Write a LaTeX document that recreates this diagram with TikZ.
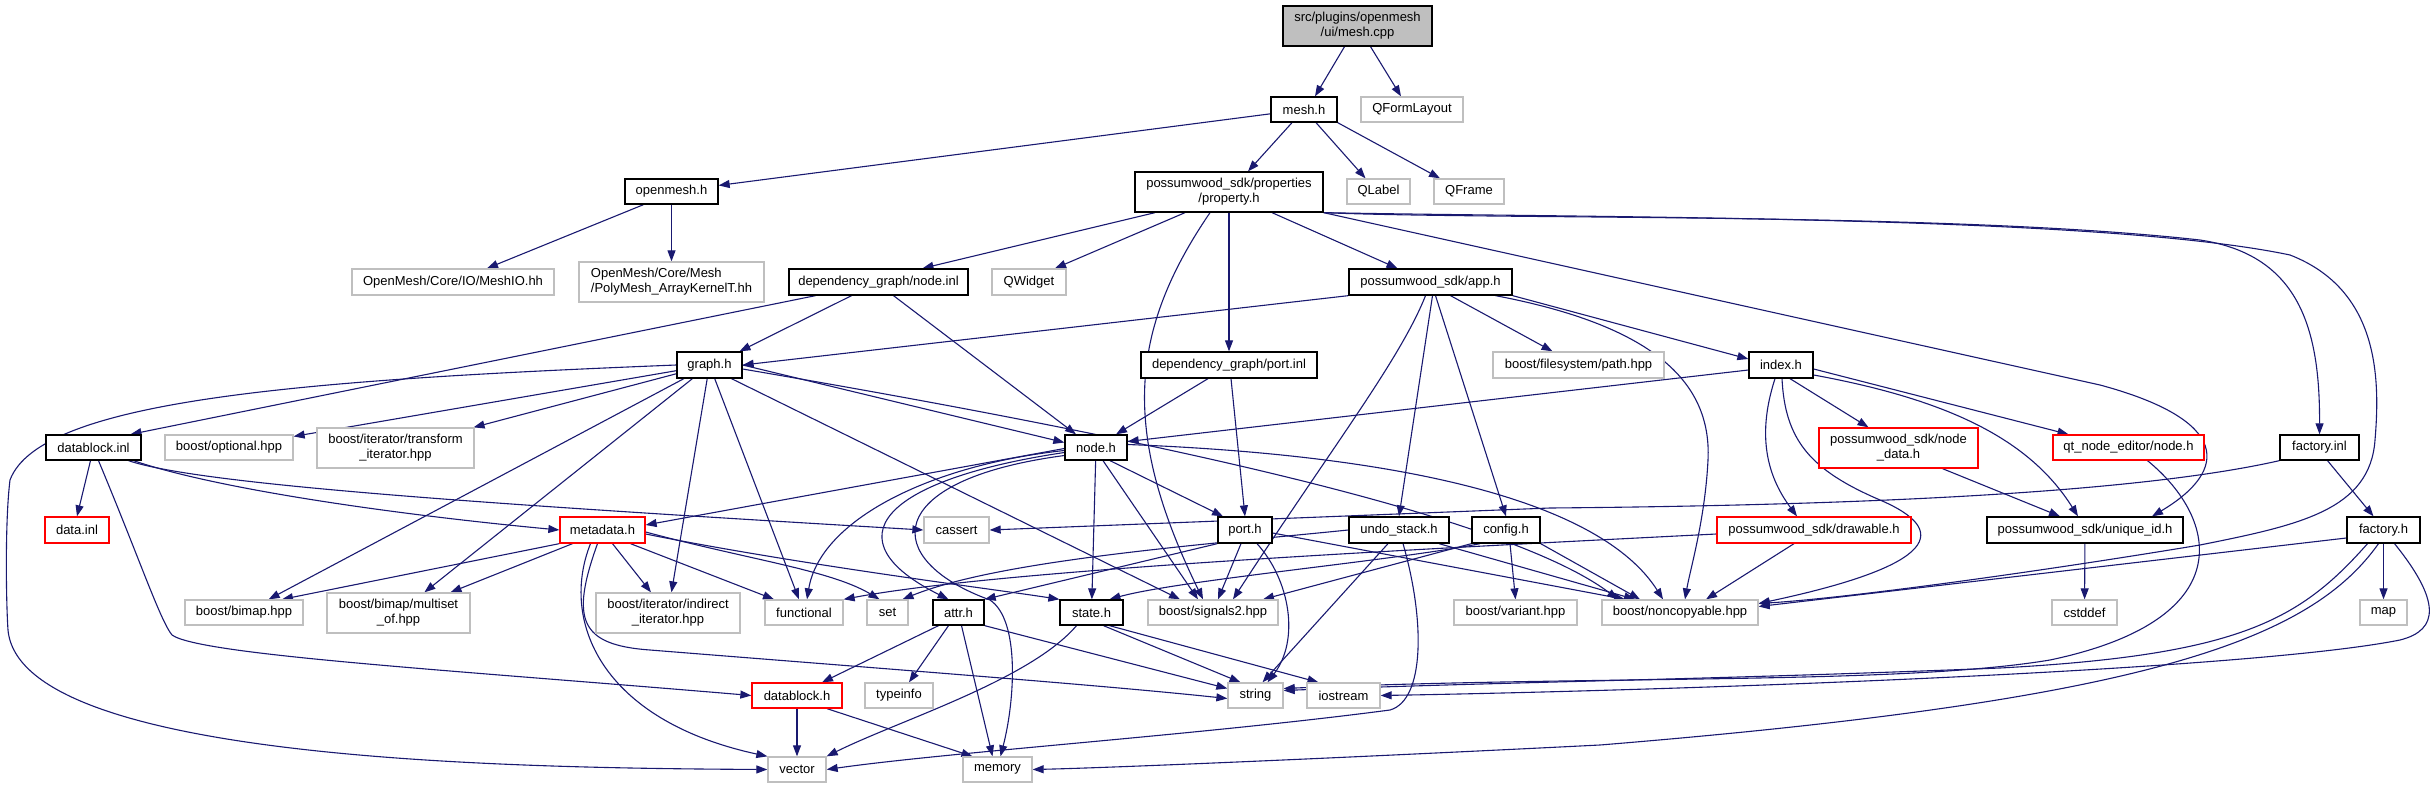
\documentclass[tikz,border=0pt]{standalone}
\usepackage{fontspec}
\setmainfont{Liberation Sans}
\usetikzlibrary{arrows.meta}
\definecolor{edgeblue}{HTML}{191970}
\definecolor{lightgr}{HTML}{BFBFBF}
\definecolor{redbd}{HTML}{FF0000}
\pgfdeclarelayer{bg}
\pgfsetlayers{bg,main}
\tikzset{
  nbox/.style={draw, line width=1.3pt, inner sep=0pt, align=center, fill=white, font=\fontsize{13}{15}\selectfont},
  blk/.style={nbox, draw=black},
  gry/.style={nbox, draw=lightgr},
  rd/.style={nbox, draw=redbd},
  rootbox/.style={nbox, draw=black, fill=lightgr},
  wh/.style 2 args={minimum width=#1pt, minimum height=#2pt},
  dep/.style={draw=edgeblue, line width=1.1pt, -{Triangle[length=11pt,width=8pt]}}
}
\begin{document}
\begin{tikzpicture}[x=1pt,y=-1pt]
\useasboundingbox (0,0) rectangle (2433,789);
% nodes
\node[rootbox, wh={149}{40}] (root) at (1357.5,26) {src/plugins/openmesh\\/ui/mesh.cpp};
\node[blk, wh={66}{25}] (mesh) at (1304,109.5) {mesh.h};
\node[gry, wh={102}{25}] (qform) at (1412,109.5) {QFormLayout};
\node[blk, wh={93}{25}] (openmesh) at (671.5,191.5) {openmesh.h};
\node[blk, wh={188}{40}] (property) at (1229,192) {possumwood\_sdk/properties\\/property.h};
\node[gry, wh={63}{25}] (qlabel) at (1378.5,191.5) {QLabel};
\node[gry, wh={70}{25}] (qframe) at (1469,191.5) {QFrame};
\node[gry, wh={202}{26}] (meshio) at (453,282) {OpenMesh/Core/IO/MeshIO.hh};
\node[gry, wh={185}{40}, align=left] (polymesh) at (671.5,282) {OpenMesh/Core/Mesh\\/PolyMesh\_ArrayKernelT.hh};
\node[blk, wh={179}{26}] (nodeinl) at (878.5,282) {dependency\_graph/node.inl};
\node[gry, wh={74}{26}] (qwidget) at (1029,282) {QWidget};
\node[blk, wh={163}{26}] (app) at (1430.5,282) {possumwood\_sdk/app.h};
\node[blk, wh={65}{26}] (graph) at (709.5,365) {graph.h};
\node[blk, wh={176}{26}] (portinl) at (1229,365) {dependency\_graph/port.inl};
\node[gry, wh={171}{26}] (path) at (1578.5,365) {boost/filesystem/path.hpp};
\node[blk, wh={64}{26}] (index) at (1781,365) {index.h};
\node[blk, wh={95}{25}] (datablockinl) at (93.5,447.5) {datablock.inl};
\node[gry, wh={128}{25}] (optional) at (229,447.5) {boost/optional.hpp};
\node[gry, wh={157}{40}] (transform) at (395.5,448) {boost/iterator/transform\\\_iterator.hpp};
\node[blk, wh={62}{25}] (nodeh) at (1096,447.5) {node.h};
\node[rd, wh={159}{40}] (nodedata) at (1898.5,448) {possumwood\_sdk/node\\\_data.h};
\node[rd, wh={151}{25}] (qtnode) at (2128.5,447.5) {qt\_node\_editor/node.h};
\node[blk, wh={79}{25}] (factoryinl) at (2319.5,447.5) {factory.inl};
\node[rd, wh={64}{26}] (datainl) at (77,530) {data.inl};
\node[rd, wh={85}{26}] (metadata) at (602.5,530) {metadata.h};
\node[gry, wh={65}{26}] (cassert) at (956.5,530) {cassert};
\node[blk, wh={54}{26}] (porth) at (1245,530) {port.h};
\node[blk, wh={100}{26}] (undo) at (1399,530) {undo\_stack.h};
\node[blk, wh={68}{26}] (config) at (1506,530) {config.h};
\node[rd, wh={194}{26}] (drawable) at (1814,530) {possumwood\_sdk/drawable.h};
\node[blk, wh={196}{26}] (uniqueid) at (2085,530) {possumwood\_sdk/unique\_id.h};
\node[blk, wh={73}{26}] (factoryh) at (2383.5,530) {factory.h};
\node[gry, wh={118}{25}] (bimap) at (244,612.5) {boost/bimap.hpp};
\node[gry, wh={143}{40}] (multiset) at (398.5,613) {boost/bimap/multiset\\\_of.hpp};
\node[gry, wh={144}{40}] (indirect) at (668,613) {boost/iterator/indirect\\\_iterator.hpp};
\node[gry, wh={78}{25}] (functional) at (804,612.5) {functional};
\node[gry, wh={41}{25}] (set) at (887.5,612.5) {set};
\node[blk, wh={51}{25}] (attr) at (958.5,612.5) {attr.h};
\node[blk, wh={63}{25}] (state) at (1091.5,612.5) {state.h};
\node[gry, wh={130}{25}] (signals) at (1213,612.5) {boost/signals2.hpp};
\node[gry, wh={123}{25}] (variant) at (1515.5,612.5) {boost/variant.hpp};
\node[gry, wh={156}{25}] (noncopy) at (1680,612.5) {boost/noncopyable.hpp};
\node[gry, wh={65}{25}] (cstddef) at (2084.5,612.5) {cstddef};
\node[gry, wh={47}{25}] (map) at (2383.5,612.5) {map};
\node[rd, wh={90}{25}] (datablockh) at (797,695.5) {datablock.h};
\node[gry, wh={68}{25}] (typeinfo) at (899,695.5) {typeinfo};
\node[gry, wh={55}{25}] (string) at (1255.5,695.5) {string};
\node[gry, wh={73}{25}] (iostream) at (1343.5,695.5) {iostream};
\node[gry, wh={58}{25}] (vector) at (797,769.5) {vector};
\node[gry, wh={69}{25}] (memory) at (997.5,769.5) {memory};
% edges
\begin{pgfonlayer}{bg}
\draw[dep] ([xshift=-13pt]root.south) -- ([xshift=11pt]mesh.north);
\draw[dep] ([xshift=13pt]root.south) -- ([xshift=-11pt]qform.north);
\draw[dep] (mesh) -- (openmesh);
\draw[dep] ([xshift=-12pt]mesh.south) -- ([xshift=19pt]property.north);
\draw[dep] ([xshift=12pt]mesh.south) -- ([xshift=-13pt]qlabel.north);
\draw[dep] (mesh.south east) -- ([xshift=-29pt]qframe.north);
\draw[dep] ([xshift=-28pt]openmesh.south) -- ([xshift=34pt]meshio.north);
\draw[dep] (openmesh) -- (polymesh);
\draw[dep] ([xshift=-74pt]property.south) -- ([xshift=44pt]nodeinl.north);
\draw[dep] ([xshift=-44pt]property.south) -- ([xshift=26pt]qwidget.north);
\draw[dep] ([xshift=-19pt]property.south) .. controls (1130,330) and (1120,430) .. ([xshift=-10pt]signals.north);
\draw[dep] (property) -- (portinl);
\draw[dep] ([xshift=43pt]property.south) -- ([xshift=-33pt]app.north);
\draw[dep] (property.south east) -- (2100,385) .. controls (2230,420) and (2230,470) .. ([xshift=67pt]uniqueid.north);
\draw[dep] (property.south east) .. controls (1500,220) and (1950,212) .. (2200,240) .. controls (2300,255) and (2320,330) .. (factoryinl.north);
\draw[dep] (property.south east) .. controls (1600,218) and (2100,215) .. (2290,255) .. controls (2380,290) and (2380,380) .. (2375,440) .. controls (2370,510) and (2300,525) .. (2200,545) .. controls (2050,570) and (1850,598) .. ([yshift=9pt]noncopy.east);
\draw[dep] ([xshift=-27pt]nodeinl.south) -- ([xshift=30pt]graph.north);
\draw[dep] ([xshift=15pt]nodeinl.south) -- ([xshift=-20pt]nodeh.north);
\draw[dep] ([xshift=-63pt]nodeinl.south) -- ([xshift=37pt]datablockinl.north);
\draw[dep] (app.south west) -- (graph.east);
\draw[dep] (app.south east) -- ([yshift=6pt]index.west);
\draw[dep] ([xshift=20pt]app.south) -- ([xshift=-26pt]path.north);
\draw[dep] ([xshift=-5pt]app.south) .. controls (1400,360) and (1330,450) .. ([xshift=20pt]signals.north);
\draw[dep] ([xshift=2pt]app.south) -- (undo.north);
\draw[dep] ([xshift=5pt]app.south) -- (config.north);
\draw[dep] ([xshift=65pt]app.south) .. controls (1650,325) and (1712,380) .. (1708,460) .. controls (1705,520) and (1690,570) .. ([xshift=5pt]noncopy.north);
\draw[dep] ([xshift=-21pt]portinl.south) -- ([xshift=20pt]nodeh.north);
\draw[dep] ([xshift=2pt]portinl.south) -- (porth.north);
\draw[dep] (graph.west) .. controls (300,380) and (40,400) .. (10,480) .. controls (5,520) and (6,600) .. (8,630) .. controls (20,760) and (500,768) .. (vector.west);
\draw[dep] (graph) -- (optional);
\draw[dep] (graph) -- (transform);
\draw[dep] (graph) -- (bimap);
\draw[dep] (graph) -- (multiset);
\draw[dep] (graph) -- (indirect);
\draw[dep] (graph) -- (functional);
\draw[dep] (graph.east) -- ([yshift=5pt]nodeh.west);
\draw[dep] ([xshift=22pt]graph.south) -- ([xshift=-33pt]signals.north);
\draw[dep] ([yshift=-4pt]graph.east) .. controls (1100,430) and (1500,510) .. ([xshift=-62pt]noncopy.north);
\draw[dep] ([yshift=-5pt]index.west) -- ([yshift=6pt]nodeh.east);
\draw[dep] ([xshift=9pt]index.south) -- ([xshift=-30pt]nodedata.north);
\draw[dep] ([yshift=-4pt]index.east) -- ([xshift=-60pt]qtnode.north);
\draw[dep] ([xshift=-6pt]index.south) .. controls (1755,440) and (1770,480) .. ([xshift=-17pt]drawable.north);
\draw[dep] ([yshift=-10pt]index.east) .. controls (1950,400) and (2030,440) .. ([xshift=-7pt]uniqueid.north);
\draw[dep] ([xshift=1pt]index.south) .. controls (1785,440) and (1810,470) .. (1880,500) .. controls (1950,530) and (1940,565) .. ([yshift=9pt]noncopy.east);
\draw[dep] ([xshift=44pt]nodedata.south) -- ([xshift=-25pt]uniqueid.north);
\draw[dep] (uniqueid) -- (cstddef);
\draw[dep] ([xshift=8pt]factoryinl.south) -- ([xshift=-10pt]factoryh.north);
\draw[dep] (factoryinl.south west) .. controls (2150,490) and (1900,505) .. (1550,508) -- (cassert.east);
\draw[dep] (factoryh) -- (map);
\draw[dep] ([yshift=-8pt]factoryh.west) -- ([yshift=6pt]noncopy.east);
\draw[dep] ([xshift=-16pt]factoryh.south) .. controls (2300,620) and (2240,655) .. (2000,668) .. controls (1700,680) and (1500,682) .. ([yshift=5pt]string.east);
\draw[dep] ([xshift=-5pt]factoryh.south) .. controls (2310,640) and (2150,700) .. (1600,745) .. controls (1300,760) and (1100,768) .. (memory.east);
\draw[dep] ([xshift=11pt]factoryh.south) .. controls (2440,600) and (2440,630) .. (2400,640) .. controls (2250,670) and (1700,690) .. (iostream.east);
\draw[dep] ([xshift=19pt]qtnode.south) .. controls (2220,520) and (2240,620) .. (2050,660) .. controls (1900,685) and (1600,675) .. ([yshift=7pt]string.east);
\draw[dep] ([xshift=-20pt]drawable.south) -- ([xshift=26pt]noncopy.north);
\draw[dep] ([yshift=-4pt]drawable.west) .. controls (1400,550) and (1000,570) .. (functional.north east);
\draw[dep] (config.south west) -- ([xshift=50pt]signals.north);
\draw[dep] ([xshift=-26pt]config.south) .. controls (1400,560) and (1180,580) .. ([xshift=18pt]state.north);
\draw[dep] ([xshift=4pt]config.south) -- (variant.north);
\draw[dep] (config.south east) -- ([xshift=-40pt]noncopy.north);
\draw[dep] (undo.west) .. controls (1200,545) and (1000,560) .. ([xshift=15pt]set.north);
\draw[dep] ([xshift=-11pt]undo.south) -- ([xshift=7pt]string.north);
\draw[dep] ([xshift=4pt]undo.south) .. controls (1425,620) and (1425,700) .. (1390,710) .. controls (1200,735) and (950,752) .. (vector.east);
\draw[dep] ([xshift=40pt]undo.south) -- ([xshift=-45pt]noncopy.north);
\draw[dep] (porth.south west) -- (attr.north east);
\draw[dep] ([xshift=-4pt]porth.south) -- ([xshift=5pt]signals.north);
\draw[dep] ([xshift=12pt]porth.south) .. controls (1290,580) and (1300,640) .. ([xshift=12pt]string.north);
\draw[dep] ([yshift=-3pt]porth.east) -- ([xshift=-55pt]noncopy.north);
\draw[dep] ([xshift=14pt]nodeh.south) -- ([xshift=-22pt]porth.north);
\draw[dep] (nodeh) -- (state);
\draw[dep] ([xshift=7pt]nodeh.south) -- ([xshift=-15pt]signals.north);
\draw[dep] ([yshift=-1pt]nodeh.west) -- ([yshift=5pt]metadata.east);
\draw[dep] ([yshift=-3pt]nodeh.west) .. controls (930,465) and (820,520) .. ([xshift=3pt]functional.north);
\draw[dep] ([yshift=-5pt]nodeh.west) .. controls (880,480) and (830,540) .. ([xshift=-10pt]attr.north);
\draw[dep] ([yshift=-8pt]nodeh.west) .. controls (880,480) and (880,560) .. (990,600) .. controls (1020,620) and (1015,700) .. ([xshift=3pt]memory.north);
\draw[dep] ([yshift=3pt]nodeh.east) .. controls (1400,455) and (1600,500) .. ([xshift=-17pt]noncopy.north);
\draw[dep] ([xshift=-3pt]datablockinl.south) -- (datainl.north);
\draw[dep] ([xshift=40pt]datablockinl.south) .. controls (220,490) and (400,515) .. (metadata.west);
\draw[dep] ([xshift=35pt]datablockinl.south) .. controls (200,485) and (500,505) .. (cassert.west);
\draw[dep] ([xshift=5pt]datablockinl.south) .. controls (140,560) and (160,620) .. (172,635) .. controls (200,655) and (450,670) .. (datablockh.west);
\draw[dep] (metadata.south west) -- ([xshift=38pt]bimap.north);
\draw[dep] ([xshift=-30pt]metadata.south) -- ([xshift=52pt]multiset.north);
\draw[dep] ([xshift=10pt]metadata.south) -- ([xshift=-17pt]indirect.north);
\draw[dep] ([xshift=28pt]metadata.south) -- ([xshift=-30pt]functional.north);
\draw[dep] ([yshift=-2pt]metadata.east) .. controls (750,560) and (830,570) .. ([xshift=-8pt]set.north);
\draw[dep] ([yshift=-4pt]metadata.east) .. controls (800,565) and (1000,590) .. (state.north west);
\draw[dep] ([xshift=-12pt]metadata.south) .. controls (560,620) and (600,720) .. (vector.north west);
\draw[dep] ([xshift=-5pt]metadata.south) .. controls (570,620) and (580,645) .. (650,650) .. controls (900,670) and (1100,685) .. ([yshift=-3pt]string.west);
\draw[dep] ([xshift=-20pt]attr.south) -- ([xshift=25pt]datablockh.north);
\draw[dep] ([xshift=-10pt]attr.south) -- ([xshift=10pt]typeinfo.north);
\draw[dep] ([xshift=3pt]attr.south) -- ([xshift=-5pt]memory.north);
\draw[dep] (attr.south east) -- ([yshift=7pt]string.west);
\draw[dep] ([xshift=12pt]state.south) -- ([xshift=-15pt]string.north);
\draw[dep] ([xshift=18pt]state.south) -- ([xshift=-25pt]iostream.north);
\draw[dep] ([xshift=-15pt]state.south) .. controls (1030,680) and (900,720) .. (vector.north east);
\draw[dep] (datablockh) -- (vector);
\draw[dep] ([xshift=30pt]datablockh.south) -- ([xshift=-25pt]memory.north);
\end{pgfonlayer}
\end{tikzpicture}
\end{document}
